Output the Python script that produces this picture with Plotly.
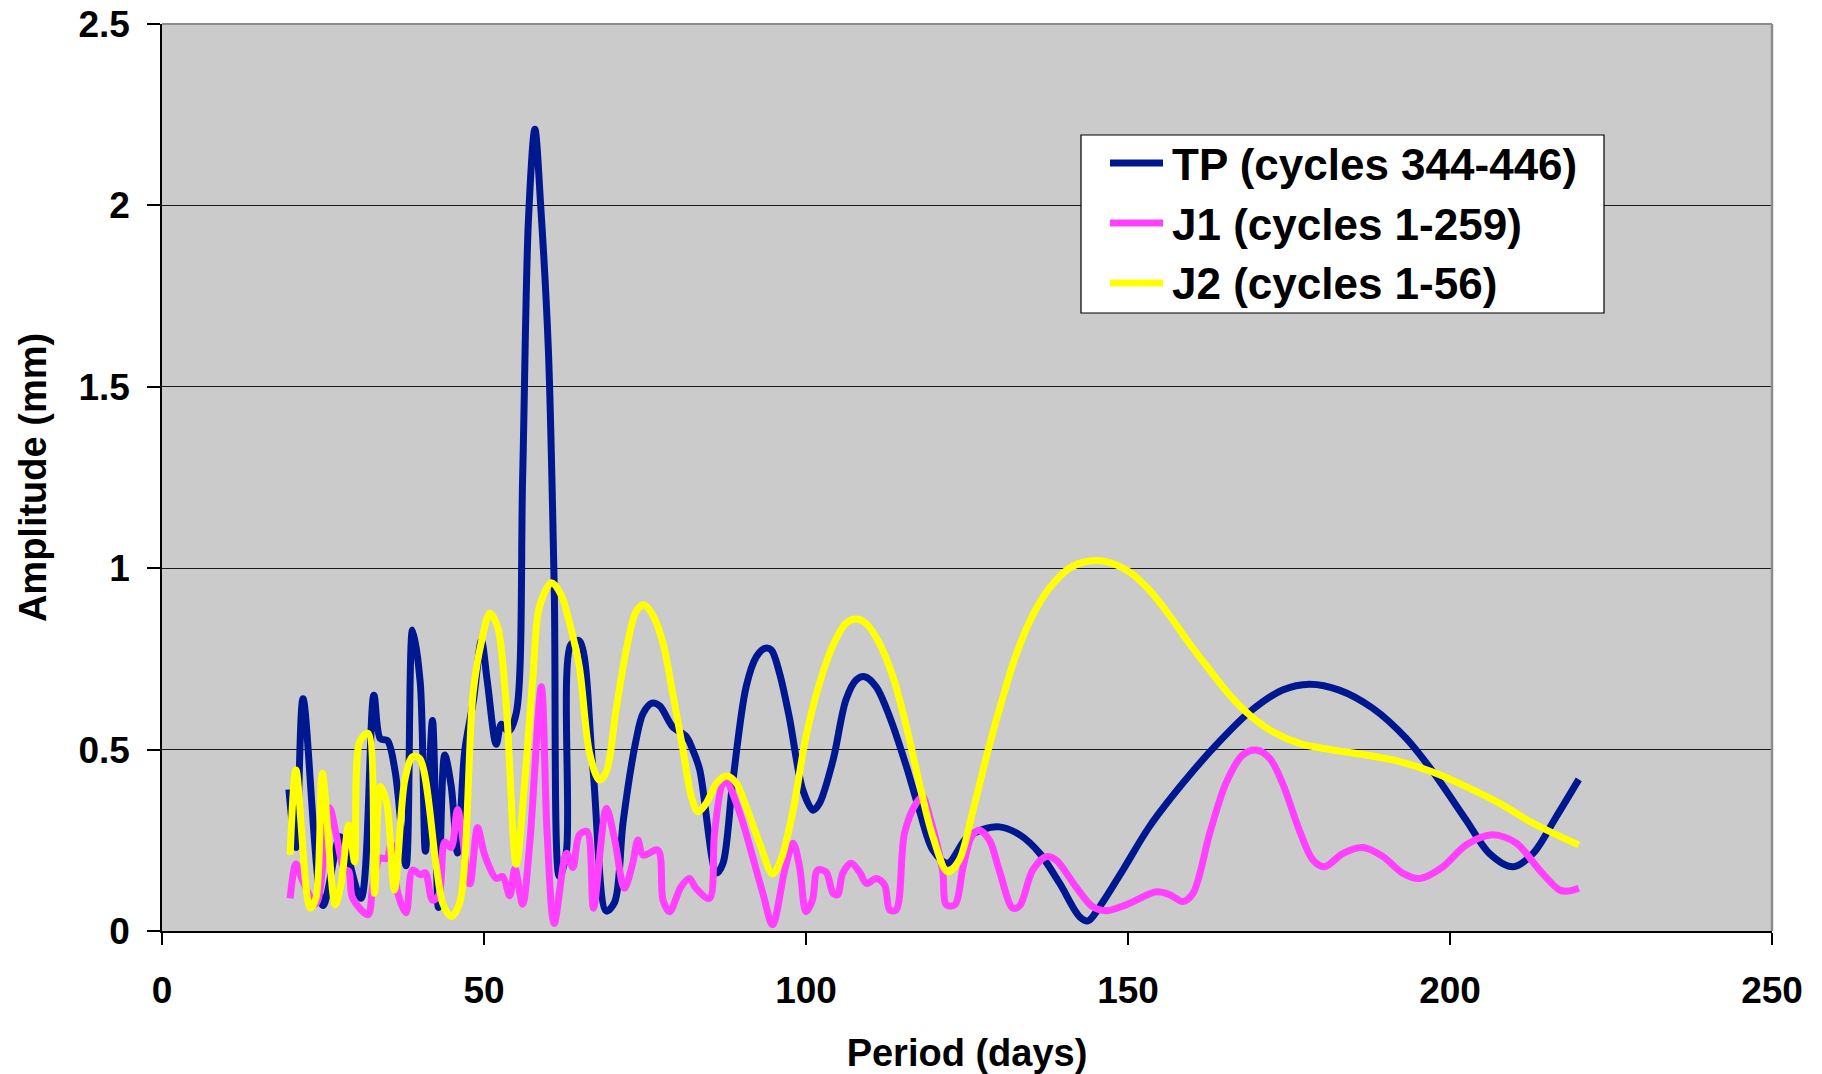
import plotly.graph_objects as go

# ---- data -------------------------------------------------------------
series_names = ["TP (cycles 344-446)", "J1 (cycles 1-259)", "J2 (cycles 1-56)"]

tp_period = [19.7, 20.8, 21.9, 25.0, 27.6, 28.3, 30.9, 32.9, 33.9, 35.0,
             36.2, 37.9, 38.9, 40.1, 40.9, 42.0, 42.9, 43.9, 44.9, 45.9,
             47.0, 48.4, 49.6, 50.5, 51.9, 52.7, 53.8, 55.0, 56.0, 56.9,
             57.9, 58.8, 60.0, 60.9, 61.7, 62.8, 63.5, 64.8, 66.9, 69.0,
             70.3, 71.6, 73.6, 74.7, 76.1, 77.3, 79.3, 81.4, 82.4, 83.5,
             86.1, 87.1, 88.6, 90.7, 92.3, 93.6, 94.6, 95.9, 97.4, 99.5,
             101.1, 102.1, 104.2, 106.2, 107.8, 109.1, 110.9, 113.0, 115.6, 117.6,
             119.7, 122.0, 124.9, 127.5, 130.0, 133.2, 136.3, 139.4, 142.5, 143.8,
             145.6, 149.2, 153.3, 158.5, 163.7, 168.9, 174.0, 178.2, 182.8, 188.0,
             193.2, 197.3, 202.5, 206.1, 209.8, 212.9, 216.5, 220.0]
tp_amp = [0.39, 0.23, 0.64, 0.07, 0.26, 0.24, 0.09, 0.65, 0.53, 0.525,
          0.44, 0.18, 0.83, 0.685, 0.22, 0.58, 0.065, 0.485, 0.40, 0.215,
          0.495, 0.64, 0.80, 0.69, 0.515, 0.57, 0.55, 0.60, 1.25, 1.96,
          2.21, 2.0, 1.6, 0.95, 0.15, 0.22, 0.79, 0.80, 0.45, 0.055,
          0.08, 0.30, 0.525, 0.60, 0.628, 0.62, 0.563, 0.536, 0.50, 0.444,
          0.16, 0.186, 0.407, 0.673, 0.756, 0.779, 0.775, 0.71, 0.59, 0.389,
          0.333, 0.352, 0.471, 0.637, 0.692, 0.701, 0.673, 0.59, 0.453, 0.333,
          0.223, 0.187, 0.256, 0.28, 0.287, 0.265, 0.214, 0.131, 0.039, 0.028,
          0.067, 0.168, 0.287, 0.407, 0.513, 0.604, 0.664, 0.68, 0.664, 0.614,
          0.531, 0.44, 0.306, 0.214, 0.177, 0.214, 0.315, 0.418]

j1_period = [19.9, 20.8, 21.8, 23.9, 26.0, 27.0, 28.3, 29.0, 29.6, 32.0,
             32.7, 33.8, 34.9, 35.6, 36.6, 37.9, 38.9, 40.1, 40.9, 42.0,
             43.0, 43.9, 44.9, 45.9, 47.8, 49.0, 50.1, 51.9, 52.9, 54.0,
             54.8, 56.0, 57.1, 58.9, 59.8, 60.9, 62.8, 63.8, 64.8, 66.0,
             67.0, 69.0, 70.3, 71.8, 73.1, 73.9, 74.7, 77.0, 77.8, 78.8,
             80.6, 81.9, 82.9, 85.0, 85.8, 87.1, 87.7, 89.2, 90.4, 93.3,
             94.8, 96.7, 98.0, 99.0, 100.0, 101.0, 101.8, 103.1, 104.2, 104.9,
             105.7, 107.0, 108.3, 109.4, 110.9, 112.2, 113.0, 114.0, 115.3, 117.1,
             118.1, 119.2, 121.2, 121.8, 123.1, 124.4, 125.7, 126.9, 128.5, 130.0,
             132.1, 133.2, 135.2, 137.3, 138.8, 141.9, 144.5, 146.6, 149.7, 154.4,
             156.5, 158.5, 160.1, 162.7, 165.2, 167.8, 169.9, 172.0, 174.0, 176.6,
             178.7, 180.5, 183.4, 186.5, 189.6, 192.7, 195.3, 198.9, 202.5, 206.6,
             210.3, 213.9, 217.0, 218.3, 220.0]
j1_amp = [0.09, 0.185, 0.14, 0.075, 0.34, 0.27, 0.17, 0.165, 0.09, 0.045,
          0.12, 0.20, 0.20, 0.24, 0.105, 0.05, 0.168, 0.155, 0.16, 0.085,
          0.10, 0.245, 0.23, 0.335, 0.13, 0.285, 0.21, 0.145, 0.15, 0.097,
          0.172, 0.074, 0.24, 0.673, 0.27, 0.021, 0.214, 0.175, 0.265, 0.274,
          0.063, 0.338, 0.251, 0.118, 0.187, 0.251, 0.209, 0.223, 0.085, 0.053,
          0.122, 0.145, 0.118, 0.09, 0.27, 0.407, 0.41, 0.352, 0.287, 0.104,
          0.017, 0.168, 0.242, 0.177, 0.053, 0.085, 0.168, 0.163, 0.104, 0.10,
          0.159, 0.187, 0.163, 0.131, 0.145, 0.127, 0.058, 0.058, 0.27, 0.352,
          0.37, 0.315, 0.168, 0.072, 0.072, 0.177, 0.26, 0.278, 0.25, 0.168,
          0.063, 0.07, 0.168, 0.205, 0.196, 0.122, 0.067, 0.056, 0.072, 0.108,
          0.10, 0.081, 0.104, 0.27, 0.407, 0.485, 0.499, 0.476, 0.407, 0.278,
          0.196, 0.177, 0.214, 0.23, 0.205, 0.159, 0.145, 0.177, 0.237, 0.265,
          0.242, 0.168, 0.113, 0.11, 0.118]

j2_period = [19.9, 20.8, 23.0, 23.9, 24.9, 26.9, 27.8, 29.0, 29.9, 30.7,
             32.0, 33.0, 33.9, 34.9, 36.1, 37.7, 38.9, 40.0, 42.6, 43.6,
             44.9, 46.2, 48.3, 49.6, 50.9, 52.1, 53.4, 55.0, 56.3, 57.6,
             58.6, 60.5, 62.0, 63.3, 64.8, 66.4, 67.9, 69.0, 70.5, 72.1,
             73.6, 74.8, 76.2, 77.8, 79.3, 80.9, 82.2, 83.2, 84.5, 86.1,
             87.7, 89.2, 90.7, 92.8, 94.8, 96.1, 98.0, 100.0, 102.1, 104.2,
             106.2, 107.8, 109.3, 111.4, 113.5, 115.6, 117.6, 119.7, 122.0, 123.8,
             125.9, 128.3, 130.5, 132.6, 135.2, 137.8, 140.9, 144.0, 146.6, 150.2,
             153.3, 156.4, 159.5, 162.7, 165.8, 168.9, 172.5, 176.6, 181.8, 187.0,
             192.2, 197.3, 202.5, 207.7, 212.9, 220.0]
j2_amp = [0.21, 0.444, 0.063, 0.09, 0.435, 0.072, 0.13, 0.292, 0.191, 0.522,
          0.545, 0.104, 0.398, 0.352, 0.113, 0.416, 0.48, 0.476, 0.177, 0.076,
          0.04, 0.076, 0.655, 0.797, 0.876, 0.839, 0.637, 0.184, 0.407, 0.701,
          0.894, 0.96, 0.926, 0.848, 0.729, 0.49, 0.416, 0.439, 0.609, 0.775,
          0.88, 0.899, 0.871, 0.793, 0.655, 0.499, 0.37, 0.329, 0.352, 0.407,
          0.427, 0.407, 0.343, 0.242, 0.157, 0.196, 0.333, 0.536, 0.683, 0.788,
          0.848, 0.86, 0.848, 0.793, 0.701, 0.563, 0.407, 0.26, 0.163, 0.196,
          0.33, 0.50, 0.64, 0.76, 0.87, 0.945, 1.0, 1.02, 1.018, 0.99,
          0.94, 0.871, 0.793, 0.719, 0.65, 0.595, 0.549, 0.517, 0.499, 0.485,
          0.467, 0.438, 0.398, 0.352, 0.297, 0.237]

x_ticks = [0, 50, 100, 150, 200, 250]
y_ticks = [0, 0.5, 1, 1.5, 2, 2.5]
y_tick_text = ["0", "0.5", "1", "1.5", "2", "2.5"]

# ---- styling ----------------------------------------------------------
colors = ["#00188F", "#FF40FF", "#FFFF00"]
FONT = "Arial, 'Liberation Sans', sans-serif"
W, H = 1822, 1074
ML, MR, MT, MB = 162, 50, 24, 143
PW, PH = W - ML - MR, H - MT - MB


def px(xpix):
    return (xpix - ML) / PW


def py(ypix):
    return (H - MB - ypix) / PH


fig = go.Figure()
for name, xs, ys, c in zip(series_names,
                           [tp_period, j1_period, j2_period],
                           [tp_amp, j1_amp, j2_amp], colors):
    fig.add_trace(go.Scatter(
        x=xs, y=ys, mode="lines", name=name,
        line=dict(color=c, width=7, shape="spline", smoothing=0.9),
        showlegend=False, hoverinfo="x+y+name",
    ))

fig.update_layout(
    width=W, height=H,
    margin=dict(l=ML, r=MR, t=MT, b=MB, autoexpand=False),
    paper_bgcolor="white",
    plot_bgcolor="#CBCBCB",
    font=dict(family=FONT, color="black"),
    xaxis=dict(
        range=[0, 250], tickvals=x_ticks, ticks="outside", ticklen=12,
        tickwidth=1.5, tickcolor="black", showgrid=False, zeroline=False,
        showline=True, linecolor="black", linewidth=1.5,
        tickfont=dict(size=37, family=FONT, weight="bold"),
        ticklabelstandoff=14,
        title=dict(text="<b>Period (days)</b>", font=dict(size=38, family=FONT),
                   standoff=44),
        automargin=False,
    ),
    yaxis=dict(
        range=[0, 2.5], tickvals=y_ticks, ticktext=y_tick_text,
        ticks="outside", ticklen=13, tickwidth=1.5, tickcolor="black",
        showgrid=True, gridcolor="#1a1a1a", gridwidth=1, zeroline=False,
        showline=True, linecolor="black", linewidth=1.5,
        tickfont=dict(size=37, family=FONT, weight="bold"),
        ticklabelstandoff=10,
        title=dict(text="<b>Amplitude (mm)</b>", font=dict(size=38, family=FONT),
                   standoff=20),
        automargin=False,
    ),
)

shapes = [
    # top and right frame of the plot area
    dict(type="line", xref="paper", yref="paper", x0=0, x1=1, y0=1, y1=1,
         line=dict(color="#8C8C8C", width=2), layer="above"),
    dict(type="line", xref="paper", yref="paper", x0=1, x1=1, y0=0, y1=1,
         line=dict(color="#8C8C8C", width=2.5), layer="above"),
    # legend box
    dict(type="rect", xref="paper", yref="paper",
         x0=px(1081), x1=px(1604), y0=py(313), y1=py(135),
         fillcolor="white", line=dict(color="black", width=1.2), layer="above"),
]
annotations = []
row_y = [163, 223, 283]
for name, c, ry in zip(series_names, colors, row_y):
    shapes.append(dict(type="line", xref="paper", yref="paper",
                       x0=px(1110), x1=px(1163), y0=py(ry), y1=py(ry),
                       line=dict(color=c, width=7), layer="above"))
    annotations.append(dict(xref="paper", yref="paper", x=px(1170), y=py(ry + 1),
                            xanchor="left", yanchor="middle", showarrow=False,
                            text="<b>" + name + "</b>",
                            font=dict(size=44, family=FONT, color="black")))

fig.update_layout(shapes=shapes, annotations=annotations)

fig.write_html("out.html")
